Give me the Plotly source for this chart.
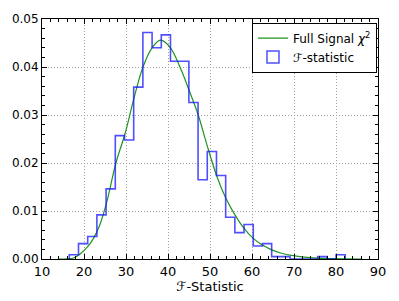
import plotly.graph_objects as go

# Histogram (density) of the F-statistic
bin_edges = [16.50, 18.69, 20.88, 23.07, 25.26, 27.45, 29.64, 31.83, 34.02, 36.21,
             38.40, 40.59, 42.78, 44.97, 47.16, 49.35, 51.54, 53.73, 55.92, 58.11,
             60.30, 62.49, 64.68, 66.87, 69.06, 71.25, 73.44, 75.63, 77.82, 80.01, 82.20]
hist_density = [0.0009, 0.0032, 0.0047, 0.0092, 0.0146, 0.0257, 0.0248, 0.0358, 0.0472, 0.0440,
                0.0467, 0.0412, 0.0412, 0.0326, 0.0165, 0.0224, 0.0174, 0.0087, 0.0055, 0.0072,
                0.0027, 0.0032, 0.0005, 0.0005, 0.0, 0.0, 0.0, 0.0005, 0.0, 0.0009]

# Full-signal chi^2 curve
curve_x = [13.8, 16.0, 17.5, 19.0, 20.6, 22.2, 23.8, 25.4, 27.6, 29.8, 31.9, 34.0, 36.2,
           38.2, 40.5, 42.9, 45.0, 47.2, 49.2, 51.6, 53.7, 56.0, 58.1, 60.3, 62.5, 64.7,
           67.0, 69.8, 72.5, 75.4, 78.5, 81.7, 86.0]
curve_y = [0.0, 0.00005, 0.0002, 0.001, 0.0023, 0.0042, 0.0072, 0.0118, 0.0200, 0.0262,
           0.0335, 0.0399, 0.0440, 0.0456, 0.0441, 0.0399, 0.0352, 0.0300, 0.0240, 0.0173,
           0.0128, 0.0091, 0.0064, 0.0043, 0.0029, 0.0019, 0.0012, 0.0007, 0.0004, 0.0002,
           0.0001, 0.00005, 0.0]

x_ticks = [10, 20, 30, 40, 50, 60, 70, 80, 90]
y_ticks = [0.00, 0.01, 0.02, 0.03, 0.04, 0.05]

FONT = "DejaVu Sans"
HIST_COLOR = "rgba(20,20,255,0.75)"
CURVE_COLOR = "#1f941f"

step_x = [bin_edges[0]] + bin_edges
step_y = [0.0] + hist_density + [0.0]

fig = go.Figure()
fig.add_trace(go.Scatter(
    x=curve_x, y=curve_y, mode="lines", line=dict(color=CURVE_COLOR, width=1.2, shape="spline"),
    name="Full Signal <i>χ</i><sup>2</sup>", showlegend=True))
fig.add_trace(go.Scatter(
    x=step_x, y=step_y, mode="lines", line=dict(color=HIST_COLOR, width=1.6, shape="hv"),
    name="ℱ-statistic", showlegend=False))
fig.add_trace(go.Bar(
    x=[None], y=[None], name="ℱ-statistic",
    marker=dict(color="rgba(0,0,0,0)", line=dict(color=HIST_COLOR, width=1.5))))

axis_common = dict(
    showline=True, linecolor="black", linewidth=1, mirror="allticks",
    ticks="inside", ticklen=5, tickcolor="black",
    showgrid=True, gridcolor="#a0a0a0", griddash="1px,2px", gridwidth=1,
    zeroline=False,
)

fig.update_xaxes(range=[10, 90], tickvals=x_ticks,
                 tickfont=dict(family=FONT, size=13, color="black"),
                 minor=dict(dtick=2, ticks="inside", ticklen=3, tickcolor="black", showgrid=False),
                 title=dict(text="ℱ-Statistic", font=dict(family=FONT, size=13, color="black"), standoff=1),
                 **axis_common)
fig.update_yaxes(range=[0, 0.05], tickvals=y_ticks, tickformat=".2f",
                 tickfont=dict(family=FONT, size=12, color="black"),
                 minor=dict(dtick=0.002, ticks="inside", ticklen=3, tickcolor="black", showgrid=False),
                 **axis_common)

fig.update_layout(
    width=399, height=301,
    margin=dict(l=41, r=21, t=17, b=40),
    plot_bgcolor="white", paper_bgcolor="white",
    font=dict(family=FONT, size=12, color="black"),
    legend=dict(x=0.997, y=0.985, xanchor="right", yanchor="top",
                bgcolor="white", bordercolor="black", borderwidth=1,
                font=dict(family=FONT, size=12, color="black"),
                itemwidth=30, tracegroupgap=0),
    showlegend=True,
)

fig.write_html("out.html", config={"displayModeBar": False},
               post_script="document.body.style.margin='0';")
